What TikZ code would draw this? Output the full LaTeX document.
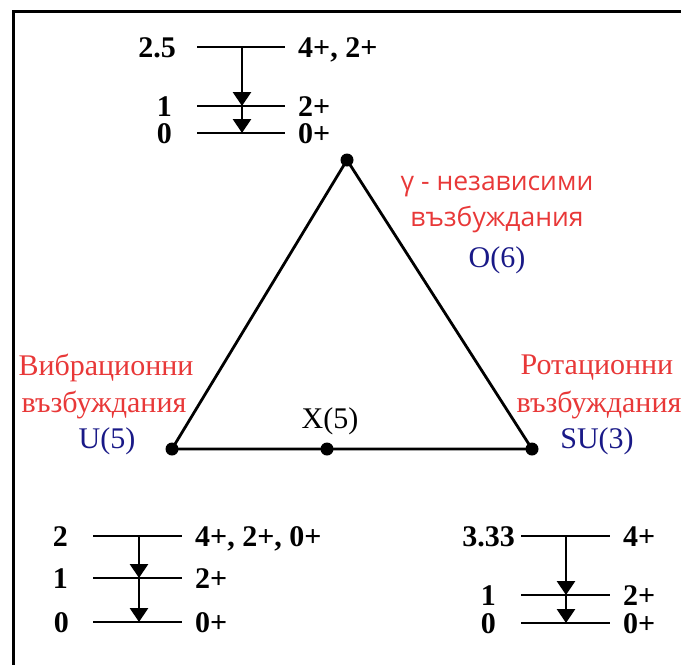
\documentclass[tikz,border=0pt]{standalone}
\usepackage{fontspec}
\setmainfont{Liberation Serif}
\newfontfamily\sansf{Open Sans}
\usetikzlibrary{arrows.meta}
\definecolor{lblred}{RGB}{232,56,56}
\definecolor{lblblue}{RGB}{25,25,135}
\begin{document}
\begin{tikzpicture}[x=1pt,y=-1pt,
  lvl/.style={line width=2.8pt},
  trans/.style={-{Triangle[length=14pt,width=18pt]}, line width=2.8pt},
  num/.style={font=\fontsize{30}{30}\selectfont\bfseries, inner sep=0pt, text height=20pt, text depth=0pt},
  dotn/.style={circle, fill=black, inner sep=0pt, minimum size=13pt},
  redlbl/.style={font=\fontsize{30}{30}\selectfont, text=lblred, inner sep=0pt},
  redsans/.style={font=\sansf\fontsize{26.5}{26.5}\selectfont, text=lblred, inner sep=0pt},
  grp/.style={font=\fontsize{30}{30}\selectfont, text=lblblue, inner sep=0pt},
  side/.style={line width=2.8pt}
]
\useasboundingbox (0,0) rectangle (681,665);
% frame (cropped on right and bottom)
\coordinate (fr1) at (681,11);
\coordinate (fr2) at (13,11);
\coordinate (fr3) at (13,665);
\draw[line width=3pt] (fr1) -- (fr2) -- (fr3);

% triangle
\node[dotn] (O6) at (347,160) {};
\node[dotn] (U5) at (172,449) {};
\node[dotn] (SU3) at (532,449) {};
\node[dotn] (X5) at (327,449) {};
\draw[side] (O6.center) -- (U5.center) -- (X5.center) -- (SU3.center) -- (O6.center);

% labels of triangle
\node[redsans] (gtop1) at (497,186) {γ - независими};
\node[redsans] (gtop2) at (497,220) {възбуждания};
\node[grp] (o6l) at (497,260) {O(6)};
\node[redlbl] (vib1) at (106,368) {Вибрационни};
\node[redlbl] (vib2) at (104,405) {възбуждания};
\node[grp] (u5l) at (107,441) {U(5)};
\node[redlbl] (rot1) at (597,368) {Ротационни};
\node[redlbl] (rot2) at (599,405) {възбуждания};
\node[grp] (su3l) at (597,441) {SU(3)};
\node[font=\fontsize{30}{30}\selectfont, inner sep=0pt] (x5l) at (330,421) {X(5)};

% top spectrum (O(6))
\coordinate (ta1) at (197,47);  \coordinate (tb1) at (285,47);
\coordinate (ta2) at (197,106); \coordinate (tb2) at (285,106);
\coordinate (ta3) at (197,133); \coordinate (tb3) at (285,133);
\draw[lvl] (ta1) -- (tb1);
\draw[lvl] (ta2) -- (tb2);
\draw[lvl] (ta3) -- (tb3);
\coordinate (tv1) at (242,47); \coordinate (tv2) at (242,106); \coordinate (tv3) at (242,133);
\draw[trans] (tv1) -- (tv2);
\draw[trans] (tv2) -- (tv3);
\node[num, anchor=base east] (te1) at (176,57) {2.5};
\node[num, anchor=base east] (te2) at (172,116) {1};
\node[num, anchor=base east] (te3) at (172,143) {0};
\node[num, anchor=base west] (tj1) at (298,57) {4+, 2+};
\node[num, anchor=base west] (tj2) at (298,116) {2+};
\node[num, anchor=base west] (tj3) at (298,143) {0+};

% bottom-left spectrum (U(5))
\coordinate (la1) at (93,536);  \coordinate (lb1) at (182,536);
\coordinate (la2) at (93,578);  \coordinate (lb2) at (182,578);
\coordinate (la3) at (93,622);  \coordinate (lb3) at (182,622);
\draw[lvl] (la1) -- (lb1);
\draw[lvl] (la2) -- (lb2);
\draw[lvl] (la3) -- (lb3);
\coordinate (lv1) at (139,536); \coordinate (lv2) at (139,578); \coordinate (lv3) at (139,622);
\draw[trans] (lv1) -- (lv2);
\draw[trans] (lv2) -- (lv3);
\node[num, anchor=base east] (le1) at (68,546) {2};
\node[num, anchor=base east] (le2) at (68,588) {1};
\node[num, anchor=base east] (le3) at (69,632) {0};
\node[num, anchor=base west] (lj1) at (195,546) {4+, 2+, 0+};
\node[num, anchor=base west] (lj2) at (195,588) {2+};
\node[num, anchor=base west] (lj3) at (195,632) {0+};

% bottom-right spectrum (SU(3))
\coordinate (ra1) at (521,536);  \coordinate (rb1) at (610,536);
\coordinate (ra2) at (521,595);  \coordinate (rb2) at (610,595);
\coordinate (ra3) at (521,623);  \coordinate (rb3) at (610,623);
\draw[lvl] (ra1) -- (rb1);
\draw[lvl] (ra2) -- (rb2);
\draw[lvl] (ra3) -- (rb3);
\coordinate (rv1) at (566,536); \coordinate (rv2) at (566,595); \coordinate (rv3) at (566,623);
\draw[trans] (rv1) -- (rv2);
\draw[trans] (rv2) -- (rv3);
\node[num, anchor=base east] (re1) at (515,546) {3.33};
\node[num, anchor=base east] (re2) at (496,605) {1};
\node[num, anchor=base east] (re3) at (496,633) {0};
\node[num, anchor=base west] (rj1) at (623,546) {4+};
\node[num, anchor=base west] (rj2) at (623,605) {2+};
\node[num, anchor=base west] (rj3) at (623,633) {0+};
\end{tikzpicture}
\end{document}
